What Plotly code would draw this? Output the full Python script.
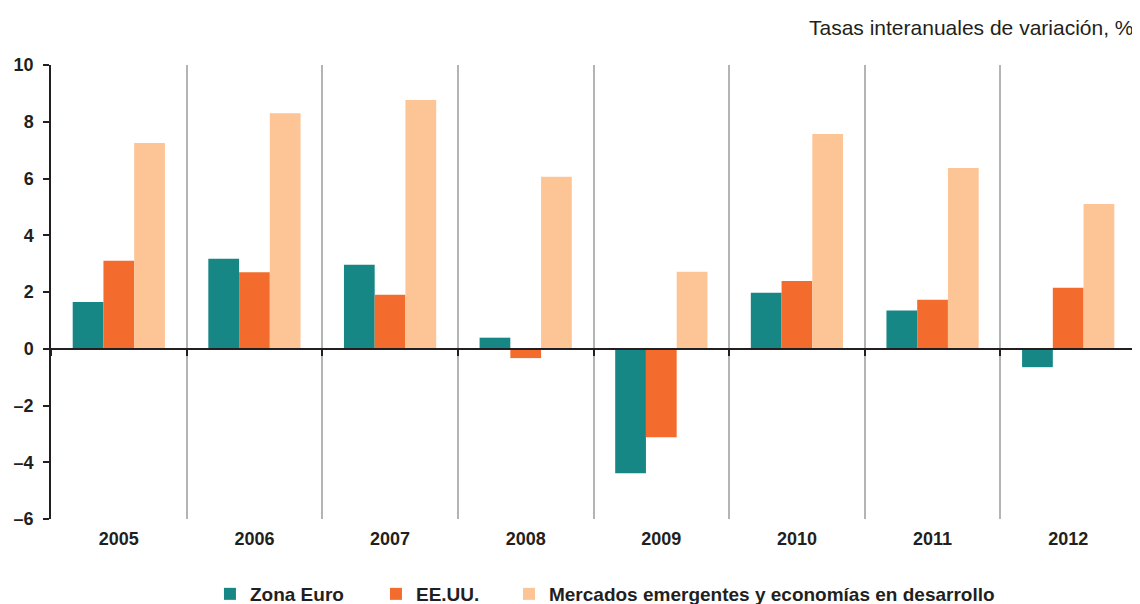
import plotly.graph_objects as go

years = ["2005", "2006", "2007", "2008", "2009", "2010", "2011", "2012"]
zona_euro = [1.65, 3.17, 2.96, 0.39, -4.39, 1.97, 1.35, -0.65]
eeuu = [3.1, 2.7, 1.9, -0.33, -3.12, 2.39, 1.73, 2.15]
emergentes = [7.25, 8.3, 8.77, 6.06, 2.71, 7.57, 6.37, 5.1]

y_ticks = [10, 8, 6, 4, 2, 0, -2, -4, -6]
y_tick_text = [str(v) if v >= 0 else "\u2013" + str(-v) for v in y_ticks]

series_names = ["Zona Euro", "EE.UU.", "Mercados emergentes y economías en desarrollo"]
colors = ["#178785", "#F36C2E", "#FDC596"]
legend_x = [0.1465, 0.2995, 0.4221]

FONT = "Liberation Sans, Arial, sans-serif"
TXT = "#231F20"

fig = go.Figure()
legend_ids = ["legend", "legend2", "legend3"]
for name, vals, c, lid in zip(series_names, [zona_euro, eeuu, emergentes], colors, legend_ids):
    fig.add_trace(go.Bar(x=years, y=vals, name=name, legend=lid,
                         marker=dict(color=c, line=dict(width=0)),
                         hovertemplate="%{x}: %{y}<extra>" + name + "</extra>"))

# helper trace for the zero-line axis with boundary ticks
fig.add_trace(go.Scatter(x=years, y=[0] * len(years), xaxis="x2", mode="lines",
                         line=dict(width=0, color="rgba(0,0,0,0)"), showlegend=False, hoverinfo="skip"))

ymin, ymax = y_ticks[-1], y_ticks[0]

legend_common = dict(orientation="h", xref="paper", yref="container", y=10 / 596, yanchor="middle",
                     xanchor="left", font=dict(family=FONT, size=19, color=TXT, weight="bold"),
                     bgcolor="rgba(0,0,0,0)")
legends = {lid: dict(legend_common, x=lx) for lid, lx in zip(legend_ids, legend_x)}

fig.update_layout(
    width=1132, height=596,
    margin=dict(l=43, r=4, t=57, b=85, autoexpand=False),
    plot_bgcolor="white", paper_bgcolor="white",
    barmode="group", bargap=0.32, bargroupgap=0,
    font=dict(family=FONT, color=TXT),
    xaxis=dict(type="category", categoryorder="array", categoryarray=years,
               range=[-0.5, len(years) - 0.5], tickson="boundaries", automargin=False,
               showgrid=True, gridcolor="#B4B4B4", gridwidth=1.5,
               ticks="outside", ticklen=14, tickcolor="rgba(0,0,0,0)", ticklabelstandoff=7,
               showline=False, zeroline=False,
               tickfont=dict(family=FONT, size=18, color=TXT, weight="bold")),
    xaxis2=dict(type="category", categoryorder="array", categoryarray=years,
                overlaying="x", anchor="free", position=(0 - ymin) / (ymax - ymin),
                range=[-0.5, len(years) - 0.5], tickson="boundaries", automargin=False,
                showgrid=False, showline=True, linecolor=TXT, linewidth=1.5,
                ticks="outside", ticklen=6, tickcolor=TXT, tickwidth=1.5,
                showticklabels=False, zeroline=False),
    yaxis=dict(range=[ymin, ymax], tickvals=y_ticks, ticktext=y_tick_text, automargin=False,
               showgrid=False, zeroline=False, showline=True, linecolor=TXT, linewidth=1.5,
               ticks="outside", ticklen=6, tickcolor=TXT, tickwidth=1.5, ticklabelstandoff=6,
               tickfont=dict(family=FONT, size=18, color=TXT, weight="bold")),
    annotations=[dict(text="Tasas interanuales de variación, %", xref="paper", yref="paper",
                      x=1, y=1.0837, xanchor="right", yanchor="middle", showarrow=False,
                      font=dict(family=FONT, size=21, color=TXT))],
    **legends,
)

fig.write_html("out.html")
